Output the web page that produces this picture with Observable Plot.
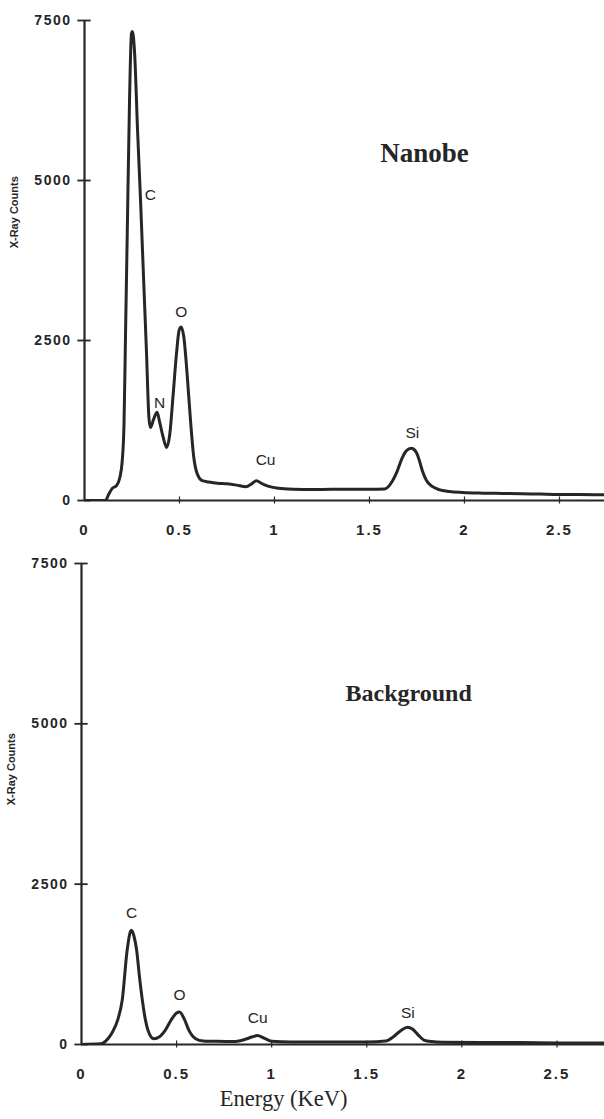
<!DOCTYPE html>
<html>
<head>
<meta charset="utf-8">
<script src="https://cdn.jsdelivr.net/npm/d3@7"></script>
<script src="https://cdn.jsdelivr.net/npm/@observablehq/plot@0.6"></script>
<style>
  html, body { margin: 0; padding: 0; background: #fff; }
  #wrap { position: relative; width: 604px; height: 1119px; overflow: hidden; }
  #top { position: absolute; left: 0; top: 0; }
  #bottom { position: absolute; left: 0; top: 543px; }
</style>
</head>
<body>
<div id="wrap"><div id="top"></div><div id="bottom"></div></div>
<script>
// ---- Data: Nanobe spectrum (energy in keV, X-ray counts) ----
const nanobeKeV = [0, 0.05, 0.11, 0.128, 0.146, 0.168, 0.186, 0.198, 0.208, 0.216, 0.225, 0.237, 0.247, 0.252,
  0.263, 0.28, 0.295, 0.312, 0.326, 0.339, 0.347, 0.365, 0.382, 0.396, 0.414, 0.432, 0.449, 0.467, 0.484,
  0.498, 0.509, 0.523, 0.54, 0.558, 0.575, 0.593, 0.62, 0.654, 0.70, 0.75, 0.80, 0.85, 0.88, 0.905, 0.93,
  0.97, 1.02, 1.10, 1.20, 1.30, 1.40, 1.50, 1.58, 1.62, 1.645, 1.67, 1.695, 1.72, 1.745, 1.76, 1.78, 1.80,
  1.83, 1.866, 1.92, 1.99, 2.1, 2.2, 2.3, 2.4, 2.5, 2.6, 2.75];
const nanobeCounts = [0, 0, 0, 100, 190, 230, 360, 600, 1200, 2600, 4170, 6250, 7290, 7330,
  7030, 5730, 4690, 3390, 2340, 1300, 1140, 1280, 1380, 1220, 990, 830, 1040, 1670, 2290,
  2660, 2710, 2550, 1980, 1250, 680, 420, 310, 290, 270, 260, 240, 215, 260, 310, 270,
  220, 190, 175, 170, 175, 175, 175, 180, 300, 450, 650, 780, 815, 760, 650, 450, 312,
  220, 170, 140, 125, 115, 110, 105, 100, 95, 95, 90];

// ---- Data: Background spectrum ----
const bgKeV = [0, 0.10, 0.13, 0.16, 0.19, 0.214, 0.24, 0.255, 0.263, 0.275, 0.29, 0.305, 0.32, 0.335, 0.35,
  0.38, 0.41, 0.44, 0.475, 0.50, 0.515, 0.54, 0.565, 0.60, 0.64, 0.70, 0.80, 0.85, 0.90, 0.925, 0.96, 1.0,
  1.1, 1.3, 1.5, 1.6, 1.64, 1.68, 1.715, 1.74, 1.77, 1.80, 1.84, 1.9, 2.1, 2.3, 2.5, 2.75];
const bgCounts = [0, 10, 60, 180, 380, 690, 1470, 1740, 1780, 1700, 1470, 1050, 690, 400, 220,
  90, 120, 220, 400, 490, 505, 400, 220, 90, 55, 50, 45, 70, 120, 140, 100, 50,
  40, 40, 40, 55, 120, 220, 270, 240, 150, 70, 45, 35, 30, 30, 25, 25];

// ---- Peak labels (element, label anchor energy, label anchor counts) ----
const nanobePeakNames = ["C", "N", "O", "Cu", "Si"];
const nanobePeakKeV = [0.347, 0.395, 0.51, 0.953, 1.726];
const nanobePeakCounts = [4770, 1530, 2940, 625, 1050];
const bgPeakNames = ["C", "O", "Cu", "Si"];
const bgPeakKeV = [0.263, 0.516, 0.926, 1.716];
const bgPeakCounts = [2050, 765, 405, 485];

// ---- Ticks and texts ----
const xTicks = [0, 0.5, 1, 1.5, 2, 2.5];
const xTickLabels = ["0", "0.5", "1", "1.5", "2", "2.5"];
const yTicks = [0, 2500, 5000, 7500];
const yTickLabels = ["0", "2500", "5000", "7500"];
const panelTitles = ["Nanobe", "Background"];
const titleKeV = [1.79, 1.72];
const titleCounts = [5420, 5470];
const yLabel = "X-Ray Counts";
const xLabel = "Energy (KeV)";

const ink = "#262626";
const sans = "'Liberation Sans', Arial, sans-serif";
const serif = "'Liberation Serif', 'Times New Roman', serif";

function panel({keV, counts, names, pk, pc, title, tk, tc, titleSize, xmax, marginLeft, height, marginBottom, yLabelCounts, withXLabel}) {
  const spectrum = keV.map((k, i) => ({keV: k, counts: counts[i]}));
  const peaks = names.map((n, i) => ({name: n, keV: pk[i], counts: pc[i]}));
  const marks = [
    Plot.ruleX([0], {y1: 0, y2: 7500, stroke: ink, strokeWidth: 2.2}),
    Plot.ruleY([0], {x1: 0, x2: xmax, stroke: ink, strokeWidth: 2}),
    Plot.ruleY(yTicks, {y: d => d, x1: -0.035, x2: 0.035, stroke: ink, strokeWidth: 1.8}),
    Plot.ruleX(xTicks.filter(d => d > 0), {x: d => d, y1: -55, y2: 55, stroke: ink, strokeWidth: 1.2}),
    Plot.text(yTicks, {x: 0, y: d => d, text: (d, i) => yTickLabels[i], dx: -13, textAnchor: "end",
      fontSize: 14, fontWeight: "bold", fontFamily: sans, fill: ink, ariaDescription: "spaced"}),
    Plot.text(xTicks, {x: d => d, y: 0, text: (d, i) => xTickLabels[i], dy: 30, textAnchor: "middle",
      fontSize: 15, fontWeight: "bold", fontFamily: sans, fill: ink, ariaDescription: "spacedx"}),
    Plot.text([yLabel], {frameAnchor: "left", y: yLabelCounts, dx: -70, rotate: -90, text: d => d,
      fontSize: 11, fontWeight: "bold", fontFamily: sans, fill: ink}),
    Plot.line(spectrum, {x: "keV", y: "counts", stroke: ink, strokeWidth: 3, curve: "monotone-x", clip: true}),
    Plot.text(peaks, {x: "keV", y: "counts", text: "name", fontSize: 15.5, fontFamily: sans, fill: ink}),
    Plot.text([title], {x: () => tk, y: () => tc, text: d => d, fontSize: titleSize, fontWeight: "bold",
      fontFamily: serif, fill: ink})
  ];
  if (withXLabel) {
    marks.push(Plot.text([xLabel], {x: () => 1.063, frameAnchor: "bottom", dy: 61, text: d => d,
      fontSize: 22.5, fontFamily: serif, fill: ink}));
  }
  const svg = Plot.plot({
    width: 604, height, marginTop: 20, marginBottom, marginLeft, marginRight: 0,
    x: {domain: [0, xmax], axis: null},
    y: {domain: [0, 7500], axis: null},
    style: {background: "white", overflow: "visible"},
    marks
  });
  d3.select(svg).selectAll("g[aria-description='spaced'] text").style("letter-spacing", "1.5px");
  d3.select(svg).selectAll("g[aria-description='spacedx'] text").style("letter-spacing", "2px");
  return svg;
}

document.getElementById("top").appendChild(panel({
  keV: nanobeKeV, counts: nanobeCounts, names: nanobePeakNames, pk: nanobePeakKeV, pc: nanobePeakCounts,
  title: panelTitles[0], tk: titleKeV[0], tc: titleCounts[0], titleSize: 27, xmax: 2.737, marginLeft: 84,
  height: 543, marginBottom: 43, yLabelCounts: 3940, withXLabel: false
}));
document.getElementById("bottom").appendChild(panel({
  keV: bgKeV, counts: bgCounts, names: bgPeakNames, pk: bgPeakKeV, pc: bgPeakCounts,
  title: panelTitles[1], tk: titleKeV[1], tc: titleCounts[1], titleSize: 24, xmax: 2.75, marginLeft: 81,
  height: 576, marginBottom: 75, yLabelCounts: 3730, withXLabel: true
}));
</script>
</body>
</html>
